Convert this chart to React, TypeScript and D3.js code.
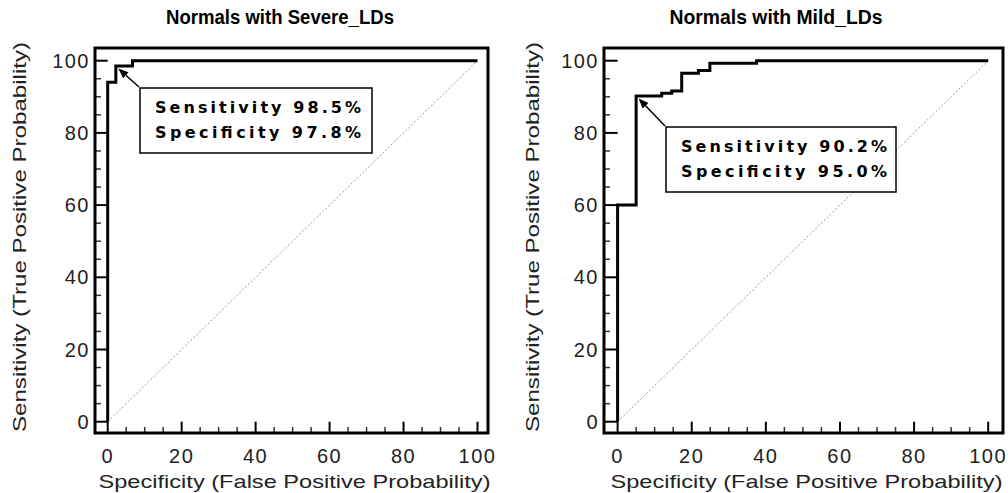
import React from "react";
import * as d3 from "d3";

// ---- data ----
const titles = ["Normals with Severe_LDs", "Normals with Mild_LDs"];
const xTickValues = [0, 20, 40, 60, 80, 100];
const yTickValues = [0, 20, 40, 60, 80, 100];
const minorTickValues = [5, 10, 15, 25, 30, 35, 45, 50, 55, 65, 70, 75, 85, 90, 95];
// ROC step vertices (FPR %, TPR %)
const severeFPR = [0, 0, 2.2, 6.7, 100];
const severeTPR = [0, 94, 98.5, 100, 100];
const mildFPR = [0, 0, 5, 11.9, 14.6, 17.3, 21.8, 24.9, 37.5, 100];
const mildTPR = [0, 60, 90.2, 91, 91.6, 96.5, 97.3, 99.3, 100, 100];
const sensitivity = ["98.5%", "90.2%"];
const specificity = ["97.8%", "95.0%"];
const operatingFPR = [2.2, 5];
const operatingTPR = [98.5, 90.2];
const xAxisTitle = "Specificity (False Positive Probability)";
const yAxisTitle = "Sensitivity (True Positive Probability)";

const panels = [
  {
    frame: { x0: 95, x1: 488, y0: 48, y1: 433 },
    xr: [107.7, 477.5],
    yr: [421.7, 60.7],
    fpr: severeFPR,
    tpr: severeTPR,
    titleX: 280,
    titleW: 228,
    yLabelX: 20,
    box: { x: 140, y: 88, w: 232, h: 65 },
    arrowFrom: [139, 87],
  },
  {
    frame: { x0: 604, x1: 1003, y0: 48, y1: 433 },
    xr: [617.6, 988.2],
    yr: [421.7, 60.7],
    fpr: mildFPR,
    tpr: mildTPR,
    titleX: 776,
    titleW: 213,
    yLabelX: 533,
    box: { x: 666, y: 127, w: 230, h: 65 },
    arrowFrom: [665, 126],
  },
];

const font = "'Liberation Sans', Arial, sans-serif";

function Panel({ p, i }: { p: any; i: number }) {
  const x = d3.scaleLinear().domain([0, 100]).range(p.xr);
  const y = d3.scaleLinear().domain([0, 100]).range(p.yr);
  const pts: [number, number][] = p.fpr.map((f: number, k: number) => [f, p.tpr[k]]);
  const line = d3
    .line<[number, number]>()
    .x((d) => x(d[0]))
    .y((d) => y(d[1]))
    .curve(d3.curveStepAfter);
  const f = p.frame;
  const tipX = x(operatingFPR[i]) + 2.5;
  const tipY = y(operatingTPR[i]) + 2.5;
  const [ax, ay] = p.arrowFrom;
  const ang = Math.atan2(tipY - ay, tipX - ax);
  const hl = 10, hw = 4;
  const bx = tipX - hl * Math.cos(ang), by = tipY - hl * Math.sin(ang);
  const head = `M${tipX},${tipY} L${bx + hw * Math.sin(ang)},${by - hw * Math.cos(ang)} L${bx - hw * Math.sin(ang)},${by + hw * Math.cos(ang)} Z`;
  const tickFont = { fontFamily: font, fontSize: 20, fill: "#222" };
  return (
    <g>
      <text
        x={p.titleX}
        y={24}
        textAnchor="middle"
        fontFamily="'Liberation Sans', Arial, sans-serif"
        fontWeight="bold"
        fontSize={20}
        fill="#000"
        textLength={p.titleW}
        lengthAdjust="spacingAndGlyphs"
      >
        {titles[i]}
      </text>
      {/* diagonal */}
      <line x1={x(0)} y1={y(0)} x2={x(100)} y2={y(100)} stroke="#999" strokeWidth={1} strokeDasharray="2,2" />
      {/* minor ticks */}
      {minorTickValues.map((v) => (
        <g key={"m" + v}>
          <line x1={f.x0} x2={f.x0 + 6} y1={y(v)} y2={y(v)} stroke="#333" strokeWidth={1.5} />
          <line x1={x(v)} x2={x(v)} y1={f.y1} y2={f.y1 - 6} stroke="#333" strokeWidth={1.5} />
        </g>
      ))}
      {/* major ticks */}
      {yTickValues.map((v) => (
        <line key={"yt" + v} x1={f.x0} x2={x(0)} y1={y(v)} y2={y(v)} stroke="#000" strokeWidth={2} />
      ))}
      {xTickValues.map((v) => (
        <line key={"xt" + v} x1={x(v)} x2={x(v)} y1={f.y1} y2={y(0)} stroke="#000" strokeWidth={2} />
      ))}
      {/* curve */}
      <path d={line(pts) || ""} fill="none" stroke="#000" strokeWidth={3} strokeLinejoin="miter" />
      {/* frame */}
      <rect x={f.x0} y={f.y0} width={f.x1 - f.x0} height={f.y1 - f.y0} fill="none" stroke="#000" strokeWidth={3} />
      {/* tick labels */}
      {yTickValues.map((v) => (
        <text key={"yl" + v} x={f.x0 - 5} y={y(v) + 7} textAnchor="end" letterSpacing={1.5} {...tickFont}>
          {v}
        </text>
      ))}
      {xTickValues.map((v) => (
        <text key={"xl" + v} x={x(v)} y={463} textAnchor="middle" letterSpacing={1.5} {...tickFont}>
          {v}
        </text>
      ))}
      {/* axis titles */}
      <text
        x={(f.x0 + f.x1) / 2 + 3}
        y={488}
        textAnchor="middle"
        fontFamily={font}
        fontSize={19}
        fill="#222"
        textLength={392}
        lengthAdjust="spacingAndGlyphs"
      >
        {xAxisTitle}
      </text>
      <text
        transform={`translate(${p.yLabelX + 6},${237}) rotate(-90)`}
        textAnchor="middle"
        fontFamily={font}
        fontSize={19}
        fill="#222"
        textLength={390}
        lengthAdjust="spacingAndGlyphs"
      >
        {yAxisTitle}
      </text>
      {/* annotation */}
      <line x1={ax} y1={ay} x2={bx} y2={by} stroke="#000" strokeWidth={1.5} />
      <path d={head} fill="#000" />
      <rect x={p.box.x} y={p.box.y} width={p.box.w} height={p.box.h} fill="#fff" stroke="#000" strokeWidth={1.5} />
      <text
        x={p.box.x + 15}
        y={p.box.y + 25}
        fontFamily="'DejaVu Sans', sans-serif"
        fontWeight="bold"
        fontSize={16}
        fill="#000"
        textLength={206}
        lengthAdjust="spacing"
      >
        {`Sensitivity ${sensitivity[i]}`}
      </text>
      <text
        x={p.box.x + 15}
        y={p.box.y + 50}
        fontFamily="'DejaVu Sans', sans-serif"
        fontWeight="bold"
        fontSize={16}
        fill="#000"
        textLength={206}
        lengthAdjust="spacing"
      >
        {`Specificity ${specificity[i]}`}
      </text>
    </g>
  );
}

export default function App() {
  return (
    <svg
      width={1008}
      height={493}
      style={{ position: "absolute", left: 0, top: 0, background: "#fff" }}
    >
      <rect width={1008} height={493} fill="#fff" />
      {panels.map((p, i) => (
        <Panel key={i} p={p} i={i} />
      ))}
    </svg>
  );
}
